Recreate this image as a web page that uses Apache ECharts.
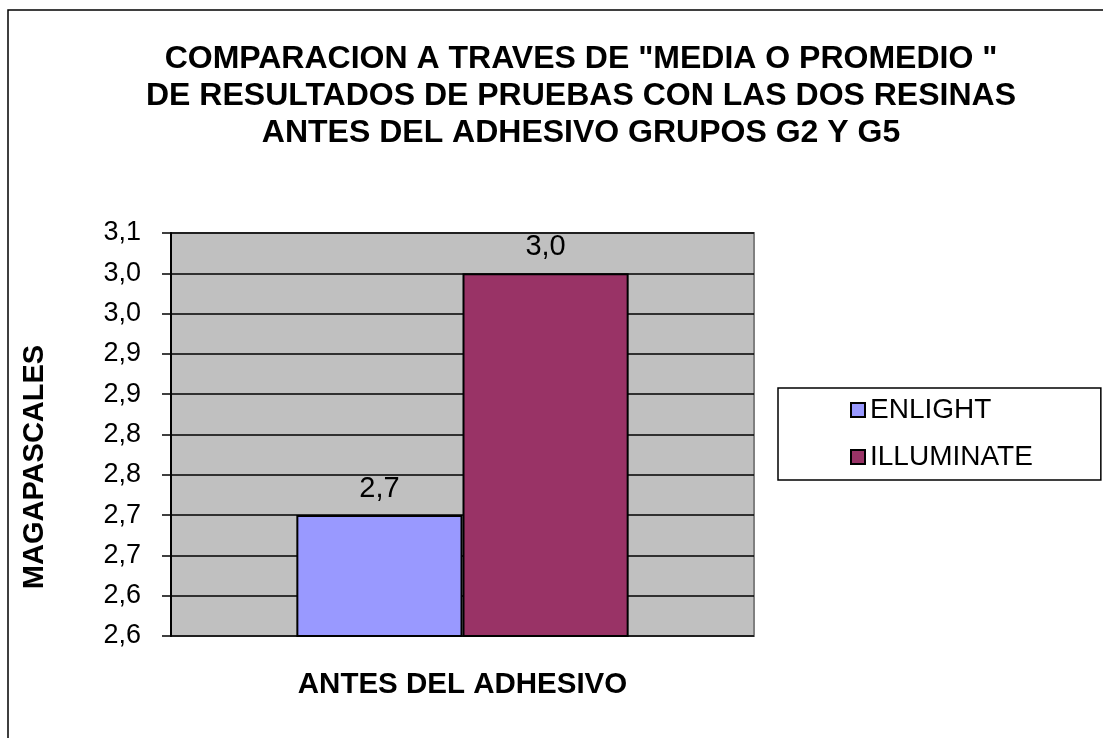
<!DOCTYPE html>
<html>
<head>
<meta charset="utf-8">
<script src="https://cdn.jsdelivr.net/npm/echarts@6/dist/echarts.min.js"></script>
<style>
html,body{margin:0;padding:0;background:#fff;}
#chart{width:1103px;height:738px;}
</style>
</head>
<body>
<div id="chart"></div>
<script>
const titleLines = ['COMPARACION A TRAVES DE "MEDIA O PROMEDIO "', 'DE RESULTADOS DE PRUEBAS CON LAS DOS RESINAS', 'ANTES DEL ADHESIVO GRUPOS G2 Y G5'];
const categories = ['ANTES DEL ADHESIVO'];
const seriesNames = ['ENLIGHT', 'ILLUMINATE'];
const enlight = [2.70];
const illuminate = [3.00];
const yMin = 2.55, yMax = 3.05, yStep = 0.05;
const yTickLabels = ['2,6','2,6','2,7','2,7','2,8','2,8','2,9','2,9','3,0','3,0','3,1'];
const yAxisName = 'MAGAPASCALES';
const colors = ['#9999FF', '#993366'];

const FONT = '"Liberation Sans", Arial, sans-serif';
const chart = echarts.init(document.getElementById('chart'), null, {renderer: 'canvas'});
const labelFmt = p => p.value.toFixed(1).replace('.', ',');
const mkSeries = (name, data, color) => ({
  name, type: 'bar', data,
  barGap: '0%', barCategoryGap: '43%',
  itemStyle: {color, borderColor: '#000', borderWidth: 2},
  label: {show: true, position: 'top', distance: 12, formatter: labelFmt,
          fontFamily: FONT, fontSize: 29, color: '#000'}
});
chart.setOption({
  animation: false,
  backgroundColor: '#fff',
  title: {
    text: titleLines.join('\n'),
    left: 581, top: 41, textAlign: 'center', padding: 0,
    textStyle: {fontFamily: FONT, fontWeight: 'bold', fontSize: 32, lineHeight: 37, color: '#000'}
  },
  graphic: [{
    type: 'rect', shape: {x: 8, y: 10, width: 1300, height: 900},
    style: {fill: 'none', stroke: '#000', lineWidth: 1.5}, silent: true, z: -10
  }, {
    type: 'text', x: 35, y: 467, rotation: Math.PI / 2, silent: true,
    style: {text: yAxisName, fontFamily: FONT, fontWeight: 'bold', fontSize: 29, fill: '#000',
            align: 'center', verticalAlign: 'middle'}
  }],
  legend: {
    orient: 'vertical', left: 778, top: 388,
    padding: [7, 68, 8, 72],
    itemWidth: 14, itemHeight: 14, itemGap: 17,
    borderColor: '#000', borderWidth: 1.5,
    icon: 'rect',
    textStyle: {fontFamily: FONT, fontSize: 28, color: '#000', lineHeight: 30},
    data: seriesNames
  },
  grid: {
    left: 171, top: 233, right: 349, bottom: 102,
    show: true, backgroundColor: '#C0C0C0', borderColor: '#808080', borderWidth: 2
  },
  xAxis: {
    type: 'category', data: categories,
    axisLine: {show: false}, axisTick: {show: false},
    axisLabel: {margin: 34, fontFamily: FONT, fontWeight: 'bold', fontSize: 29.5, color: '#000'}
  },
  yAxis: {
    type: 'value', min: yMin, max: yMax, interval: yStep,
    axisLine: {show: true, lineStyle: {color: '#000', width: 2}},
    axisTick: {show: true, inside: false, length: 9, lineStyle: {color: '#000', width: 1.5}},
    splitLine: {show: true, lineStyle: {color: '#000', width: 1.5}},
    axisLabel: {
      margin: 30, fontFamily: FONT, fontSize: 27, color: '#000',
      formatter: v => yTickLabels[Math.round((v - yMin) / yStep)]
    }
  },
  series: [mkSeries(seriesNames[0], enlight, colors[0]), mkSeries(seriesNames[1], illuminate, colors[1])]
});
</script>
</body>
</html>
